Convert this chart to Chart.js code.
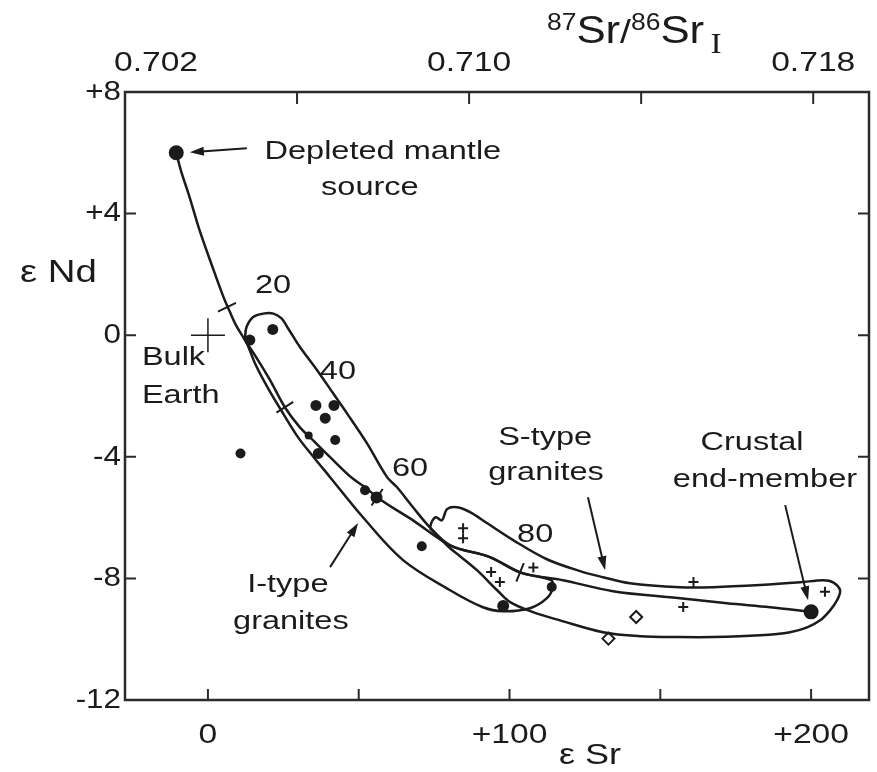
<!DOCTYPE html>
<html>
<head>
<meta charset="utf-8">
<script src="https://cdn.jsdelivr.net/npm/chart.js@4.4.1/dist/chart.umd.min.js"></script>
<style>
  html, body { margin: 0; padding: 0; background: #fff; }
  #wrap { width: 877px; height: 772px; }
</style>
</head>
<body>
<div id="wrap"><canvas id="srnd" width="877" height="772"></canvas></div>
<script>
// eNd vs eSr for granites, with the depleted mantle - crust mixing curve

// axis ticks
const srTicks = [0, 50, 100, 150, 200];
const srShown = { 0: '0', 100: '+100', 200: '+200' };
const ndTicks = [8, 4, 0, -4, -8, -12];
const ndShown = { 8: '+8', 4: '+4', 0: '0', '-4': '-4', '-8': '-8', '-12': '-12' };
const ratioTicks = [0.702, 0.706, 0.710, 0.714, 0.718];
const ratioShown = [0.702, 0.710, 0.718];

// mixing curve, mantle -> crust
const mixSr = [-10.5, -9.0, -6.3, -3.0, 1.3, 5.3, 7.3, 9.3, 11.9, 16.6, 20.6, 25.5, 30.5, 34.8, 40.5, 47.8, 52.1, 56.1, 68.0, 80.3, 93.5, 103.5, 117.7, 134.3, 156.5, 172.1, 186.4, 200.0];
const mixNd = [6.0, 5.43, 4.61, 3.52, 2.30, 1.22, 0.76, 0.33, -0.10, -0.82, -1.48, -2.37, -3.03, -3.45, -4.01, -4.70, -5.00, -5.33, -6.09, -6.91, -7.30, -7.80, -8.06, -8.42, -8.65, -8.82, -8.95, -9.1];

// % crust marks on the curve
const pctMarks = [20, 40, 60, 80];
const pctSr = [6.3, 25.5, 56.1, 103.5];
const pctNd = [0.92, -2.37, -5.33, -7.80];

// I-type field outline
const iFieldSr = [12.3, 12.8, 15.0, 18.3, 21.7, 24.4, 26.6, 30.5, 36.2, 41.5, 46.1, 52.7, 59.4, 62.7, 68.0, 73.6, 80.3, 93.5, 103.5, 113.8, 114.4, 112.4, 106.8, 97.8, 91.2, 80.3, 64.7, 51.4, 40.5, 34.8, 29.9, 24.9, 19.9, 15.9, 13.6, 12.3];
const iFieldNd = [-0.10, 0.27, 0.60, 0.71, 0.71, 0.55, 0.22, -0.39, -1.15, -1.91, -2.57, -3.55, -4.67, -5.00, -5.66, -6.32, -6.91, -7.30, -7.80, -8.06, -8.29, -8.65, -8.98, -9.08, -8.95, -8.39, -7.40, -5.99, -4.67, -3.98, -3.36, -2.57, -1.74, -0.99, -0.43, -0.10];

// S-type field outline
const sFieldSr = [73.6, 74.3, 75.6, 77.6, 79.3, 82.6, 86.9, 92.5, 101.2, 112.4, 123.4, 131.0, 139.9, 156.5, 167.5, 183.1, 196.4, 204.0, 207.3, 209.6, 208.6, 206.3, 203.0, 198.7, 193.0, 183.1, 167.5, 156.5, 143.3, 131.0, 116.7, 107.8, 100.2, 95.9, 89.2, 83.6, 80.3, 76.9, 73.6];
const sFieldNd = [-6.35, -6.12, -5.99, -6.09, -5.72, -5.66, -5.82, -6.18, -6.74, -7.37, -7.76, -7.96, -8.16, -8.29, -8.29, -8.22, -8.13, -8.06, -8.13, -8.39, -8.72, -9.05, -9.38, -9.61, -9.77, -9.87, -9.93, -9.93, -9.90, -9.77, -9.38, -9.11, -8.78, -8.39, -7.73, -7.27, -7.01, -6.68, -6.35];

// samples
const dotSr = [13.9, 21.5, 35.8, 41.8, 38.9, 42.2, 33.4, 36.6, 10.8, 52.1, 55.9, 70.9, 97.9, 114.0];
const dotNd = [-0.16, 0.19, -2.31, -2.31, -2.73, -3.45, -3.30, -3.89, -3.89, -5.10, -5.34, -6.94, -8.91, -8.28];
const plusSr = [84.6, 84.6, 93.9, 96.8, 107.9, 161.0, 157.6, 204.6];
const plusNd = [-6.35, -6.68, -7.79, -8.12, -7.64, -8.12, -8.94, -8.44];
const diamondSr = [142.0, 132.8];
const diamondNd = [-9.27, -9.98];
const endSr = [-10.5, 200.0];
const endNd = [6.0, -9.1];
const bulkSr = [0];
const bulkNd = [0];

const pts = (xs, ys) => xs.map((x, i) => ({ x: x, y: ys[i] }));
// top scale: 87Sr/86Sr read against eSr on the same frame
const srToRatio = sr => 0.702 + (sr + 27.5) * 0.008 / 114.1;

const FONT = '"Liberation Sans", Arial, Helvetica, sans-serif';
const SERIF = '"Liberation Serif", "Times New Roman", serif';
const INK = '#1b1b1b';

// labels on the plot, in data units
const notes = [
  { t: 'Depleted mantle', sr: 58.0, nd: 6.02 },
  { t: 'source', sr: 53.7, nd: 4.84 },
  { t: 'Bulk', sr: -21.9, nd: -0.76, a: 'left' },
  { t: 'Earth', sr: -21.9, nd: -2.0, a: 'left' },
  { t: 'I-type', sr: 26.5, nd: -8.22 },
  { t: 'granites', sr: 27.5, nd: -9.44 },
  { t: 'S-type', sr: 111.8, nd: -3.39 },
  { t: 'granites', sr: 112.1, nd: -4.54 },
  { t: 'Crustal', sr: 180.4, nd: -3.55 },
  { t: 'end-member', sr: 184.7, nd: -4.77 }
];
const pctLabelSr = [21.6, 43.1, 67.0, 108.5];
const pctLabelNd = [1.64, -1.22, -4.38, -6.58];
const arrows = [
  [12.9, 6.15, -6.0, 6.02],
  [40.5, -7.63, 49.8, -6.18],
  [126.0, -5.33, 131.7, -7.73],
  [191.4, -5.59, 199.0, -8.72]
];

// text in the source figure is set a little wide, so stretch it
function say(ctx, str, x, y, align, size, stretch, family) {
  ctx.save();
  ctx.font = size + 'px ' + (family || FONT);
  ctx.textAlign = align || 'center';
  ctx.textBaseline = 'middle';
  ctx.translate(x, y);
  ctx.scale(stretch || 1.22, 1);
  ctx.fillText(str, 0, 0);
  ctx.restore();
}

function arrow(ctx, x1, y1, x2, y2) {
  const a = Math.atan2(y2 - y1, x2 - x1);
  const c = Math.cos(a), s = Math.sin(a);
  ctx.beginPath();
  ctx.moveTo(x1, y1);
  ctx.lineTo(x2 - 8 * c, y2 - 8 * s);
  ctx.stroke();
  ctx.beginPath();
  ctx.moveTo(x2, y2);
  ctx.lineTo(x2 - 14 * c + 4.5 * s, y2 - 14 * s - 4.5 * c);
  ctx.lineTo(x2 - 14 * c - 4.5 * s, y2 - 14 * s + 4.5 * c);
  ctx.closePath();
  ctx.fill();
}

const frame = {
  id: 'frame',
  beforeDraw(chart) {
    const ctx = chart.ctx;
    ctx.save();
    ctx.fillStyle = '#fff';
    ctx.fillRect(0, 0, chart.width, chart.height);
    ctx.restore();
  },
  afterDatasetsDraw(chart) {
    const { ctx, chartArea: ca, scales } = chart;
    const sx = scales.x, sy = scales.y, st = scales.top;
    ctx.save();
    ctx.strokeStyle = '#2b2b2b';
    ctx.lineWidth = 2.5;
    ctx.strokeRect(ca.left, ca.top, ca.right - ca.left, ca.bottom - ca.top);

    // inward tick marks
    ctx.lineWidth = 2;
    ctx.beginPath();
    srTicks.forEach(v => {
      const px = sx.getPixelForValue(v);
      ctx.moveTo(px, ca.bottom); ctx.lineTo(px, ca.bottom - 11);
    });
    ratioTicks.slice(1).forEach(v => {
      const px = st.getPixelForValue(v);
      ctx.moveTo(px, ca.top); ctx.lineTo(px, ca.top + 12);
    });
    ndTicks.slice(1, -1).forEach(v => {
      const py = sy.getPixelForValue(v);
      ctx.moveTo(ca.left, py); ctx.lineTo(ca.left + 11, py);
      ctx.moveTo(ca.right, py); ctx.lineTo(ca.right - 11, py);
    });
    ctx.stroke();

    ctx.fillStyle = INK;
    ctx.strokeStyle = INK;

    // tick labels
    sx.ticks.forEach(t => {
      if (srShown[t.value] !== undefined) say(ctx, srShown[t.value], sx.getPixelForValue(t.value), ca.bottom + 35, 'center', 28, 1.2);
    });
    st.ticks.forEach(t => {
      if (!ratioShown.some(r => Math.abs(r - t.value) < 1e-9)) return;
      const first = Math.abs(t.value - ratioTicks[0]) < 1e-9;
      // the 0.702 label sits just inside the corner
      say(ctx, t.value.toFixed(3), st.getPixelForValue(t.value) + (first ? 31 : 0), ca.top - 29, 'center', 28, 1.2);
    });
    sy.ticks.forEach(t => {
      say(ctx, ndShown[t.value], ca.left - 4, sy.getPixelForValue(t.value), 'right', 28, 1.12);
    });

    ctx.lineWidth = 2;
    arrows.forEach(a => arrow(ctx, sx.getPixelForValue(a[0]), sy.getPixelForValue(a[1]),
      sx.getPixelForValue(a[2]), sy.getPixelForValue(a[3])));

    notes.forEach(n => say(ctx, n.t, sx.getPixelForValue(n.sr), sy.getPixelForValue(n.nd), n.a, 26, 1.25));
    pctMarks.forEach((p, i) => say(ctx, String(p), sx.getPixelForValue(pctLabelSr[i]), sy.getPixelForValue(pctLabelNd[i]), 'center', 26, 1.25));

    // axis titles
    say(ctx, 'ε Nd', 20, 273, 'left', 32, 1.2);
    say(ctx, 'ε Sr', 590, 756, 'center', 30, 1.2);

    // top title 87Sr/86Sr with initial subscript
    const parts = [['87', 23, 30], ['Sr', 38, 43], ['/', 34, 43], ['86', 23, 30], ['Sr', 38, 43], [' ', 20, 43], ['I', 29, 53, SERIF]];
    let x = 547;
    ctx.textBaseline = 'alphabetic';
    ctx.textAlign = 'left';
    parts.forEach(p => {
      ctx.font = p[1] + 'px ' + (p[3] || FONT);
      ctx.save();
      ctx.translate(x, p[2]);
      ctx.scale(1.15, 1);
      ctx.fillText(p[0], 0, 0);
      ctx.restore();
      x += ctx.measureText(p[0]).width * 1.15;
    });
    ctx.restore();
  }
};

const noPad = s => { s.paddingLeft = 0; s.paddingRight = 0; s.paddingTop = 0; s.paddingBottom = 0; };

new Chart(document.getElementById('srnd'), {
  type: 'scatter',
  data: {
    datasets: [
      {
        label: 'Mixing curve',
        data: pts(mixSr, mixNd),
        showLine: true,
        cubicInterpolationMode: 'monotone',
        borderColor: INK,
        borderWidth: 2.5,
        pointRadius: 0
      },
      {
        label: 'I-type field',
        data: pts(iFieldSr, iFieldNd),
        showLine: true,
        tension: 0.35,
        borderColor: INK,
        borderWidth: 2.5,
        pointRadius: 0
      },
      {
        label: 'S-type field',
        data: pts(sFieldSr, sFieldNd),
        showLine: true,
        tension: 0.35,
        borderColor: INK,
        borderWidth: 2.5,
        pointRadius: 0
      },
      {
        label: '% crust',
        data: pts(pctSr, pctNd),
        pointStyle: 'line',
        pointRotation: [-26, -33, -56, -68],
        pointRadius: 10,
        pointBorderWidth: 2,
        borderColor: INK
      },
      {
        label: 'Granites',
        data: pts(dotSr, dotNd),
        pointStyle: 'circle',
        pointRadius: [5.5, 5.5, 5.5, 5.5, 5.5, 5, 4, 5.5, 5, 5, 6, 5, 6, 5],
        backgroundColor: INK,
        borderColor: INK,
        borderWidth: 0
      },
      {
        label: 'S-type samples',
        data: pts(plusSr, plusNd),
        pointStyle: 'cross',
        pointRadius: 5,
        borderColor: INK,
        borderWidth: 2
      },
      {
        label: 'Open diamonds',
        data: pts(diamondSr, diamondNd),
        pointStyle: 'rectRot',
        pointRadius: 6,
        backgroundColor: '#fff',
        borderColor: INK,
        borderWidth: 2
      },
      {
        label: 'End-members',
        data: pts(endSr, endNd),
        pointStyle: 'circle',
        pointRadius: 7.5,
        backgroundColor: INK,
        borderColor: INK,
        borderWidth: 0
      },
      {
        label: 'Bulk Earth',
        data: pts(bulkSr, bulkNd),
        pointStyle: 'cross',
        pointRadius: 17,
        borderColor: INK,
        borderWidth: 1.5
      }
    ]
  },
  options: {
    responsive: false,
    animation: false,
    events: [],
    layout: { autoPadding: false, padding: { left: 0, right: 8, top: 0, bottom: 0 } },
    plugins: { legend: { display: false }, tooltip: { enabled: false } },
    scales: {
      x: {
        type: 'linear',
        position: 'bottom',
        min: -27.5,
        max: 219.2,
        afterBuildTicks: s => { s.ticks = srTicks.map(v => ({ value: v })); },
        afterFit: s => { s.height = 72; noPad(s); },
        grid: { display: false, drawTicks: false },
        border: { display: false },
        ticks: { display: false, autoSkip: false, maxRotation: 0 }
      },
      top: {
        type: 'linear',
        position: 'top',
        axis: 'x',
        min: srToRatio(-27.5),
        max: srToRatio(219.2),
        afterBuildTicks: s => { s.ticks = ratioTicks.map(v => ({ value: v })); },
        afterFit: s => { s.height = 92; noPad(s); },
        grid: { display: false, drawTicks: false },
        border: { display: false },
        ticks: { display: false, autoSkip: false, maxRotation: 0 }
      },
      y: {
        type: 'linear',
        position: 'left',
        min: -12,
        max: 8,
        afterBuildTicks: s => { s.ticks = ndTicks.map(v => ({ value: v })); },
        afterFit: s => { s.width = 125; noPad(s); },
        grid: { display: false, drawTicks: false },
        border: { display: false },
        ticks: { display: false, autoSkip: false }
      }
    }
  },
  plugins: [frame]
});
</script>
</body>
</html>
